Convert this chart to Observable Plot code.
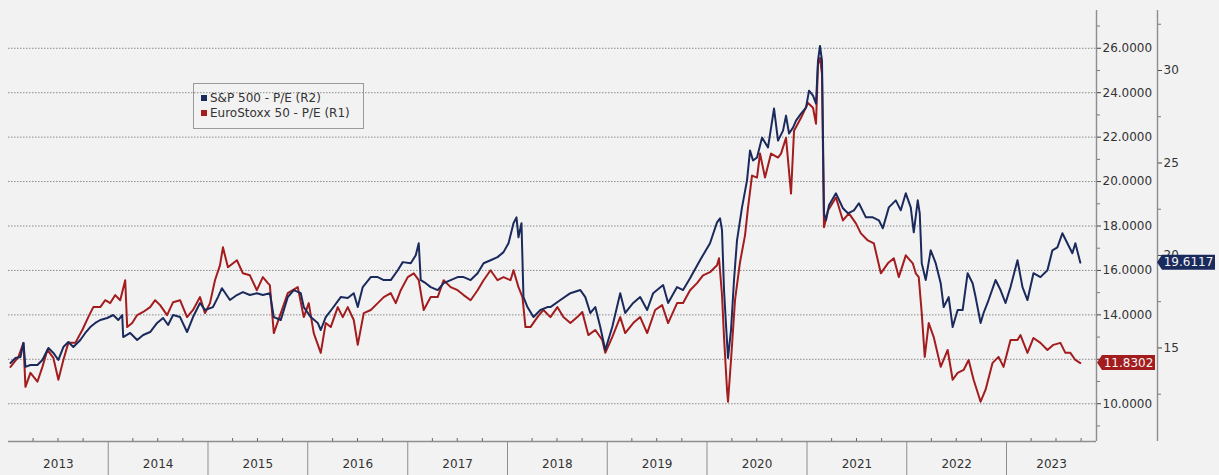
<!DOCTYPE html>
<html><head><meta charset="utf-8">
<script src="https://cdn.jsdelivr.net/npm/d3@7"></script>
<script src="https://cdn.jsdelivr.net/npm/@observablehq/plot@0.6"></script>
<style>
body{margin:0;background:#f2f2f2;}
#wrap{position:relative;width:1219px;height:475px;overflow:hidden;}
#legend{position:absolute;left:193px;top:83px;width:171px;height:46px;border:1px solid #9a9a9a;box-sizing:border-box;font:12px "DejaVu Sans",sans-serif;color:#333;padding:7px 0 0 7px;line-height:15px;white-space:nowrap;}
.sw{display:inline-block;width:6px;height:6px;margin-right:3px;vertical-align:1px;}
</style></head><body><div id="wrap"><div id="legend"></div></div>
<script>
// ---- Data (time as decimal year, P/E values) ----
const seriesNames = ["S&P 500 - P/E (R2)", "EuroStoxx 50 - P/E (R1)"];
const spxT = [2013.02,2013.07,2013.12,2013.15,2013.17,2013.22,2013.29,2013.34,2013.40,2013.45,2013.50,2013.55,2013.60,2013.65,2013.72,2013.77,2013.82,2013.87,2013.92,2013.99,
2014.05,2014.10,2014.14,2014.15,2014.22,2014.29,2014.35,2014.42,2014.49,2014.55,2014.60,2014.65,2014.72,2014.79,2014.85,2014.92,2014.97,
2015.05,2015.10,2015.14,2015.22,2015.29,2015.35,2015.42,2015.49,2015.55,2015.62,2015.66,2015.73,2015.80,2015.86,2015.93,2015.96,
2016.03,2016.10,2016.13,2016.18,2016.25,2016.33,2016.40,2016.46,2016.50,2016.55,2016.63,2016.70,2016.76,2016.83,2016.90,2016.95,
2017.03,2017.08,2017.11,2017.13,2017.18,2017.23,2017.30,2017.36,2017.43,2017.50,2017.56,2017.63,2017.70,2017.76,2017.83,2017.90,2017.96,
2018.01,2018.06,2018.09,2018.11,2018.14,2018.16,2018.20,2018.26,2018.33,2018.40,2018.43,2018.53,2018.63,2018.73,2018.78,2018.83,2018.88,2018.93,2018.98,
2019.05,2019.13,2019.18,2019.26,2019.33,2019.40,2019.46,2019.56,2019.61,2019.70,2019.76,2019.83,2019.93,
2020.03,2020.10,2020.13,2020.15,2020.17,2020.19,2020.21,2020.24,2020.27,2020.30,2020.35,2020.40,2020.43,2020.46,2020.50,2020.55,2020.61,2020.67,2020.71,2020.76,2020.79,2020.82,2020.86,2020.89,2020.94,2020.99,
2021.02,2021.06,2021.09,2021.11,2021.13,2021.15,2021.17,2021.19,2021.22,2021.29,2021.36,2021.41,2021.47,2021.52,2021.59,2021.66,2021.72,2021.76,2021.82,2021.89,2021.94,2021.99,
2022.04,2022.07,2022.11,2022.13,2022.15,2022.19,2022.24,2022.29,2022.34,2022.37,2022.42,2022.46,2022.51,2022.56,2022.61,2022.66,2022.69,2022.74,2022.77,2022.82,2022.89,2022.94,2022.99,
2023.04,2023.11,2023.16,2023.21,2023.27,2023.34,2023.41,2023.46,2023.51,2023.56,2023.61,2023.66,2023.69,2023.74];
const spxPE = [14.19,14.46,14.51,15.27,13.98,14.08,14.08,14.35,15.00,14.73,14.35,15.05,15.32,15.05,15.43,15.81,16.13,16.35,16.51,16.62,
16.78,16.51,16.78,15.59,15.81,15.43,15.70,15.86,16.35,16.62,16.24,16.78,16.67,15.86,16.67,17.43,17.05,
17.21,17.75,18.23,17.59,17.86,18.02,17.86,17.96,17.86,17.96,16.67,16.51,17.75,18.13,17.96,17.21,
16.67,16.35,15.97,16.67,17.16,17.75,17.70,17.96,17.21,18.29,18.83,18.83,18.67,18.67,19.20,19.64,
19.58,20.01,20.66,18.67,18.50,18.29,18.13,18.50,18.67,18.83,18.83,18.67,19.04,19.58,19.74,19.91,20.18,
20.66,21.74,22.06,20.98,21.74,17.75,17.21,16.67,17.05,17.21,17.21,17.59,17.96,18.13,17.75,16.89,17.21,16.13,14.89,
16.13,17.96,16.89,17.43,17.75,17.05,17.96,18.40,17.43,18.29,18.13,18.77,19.74,
20.66,21.79,22.01,21.37,18.13,16.24,14.46,15.97,18.67,20.82,22.60,24.06,25.67,25.13,25.30,26.37,25.84,27.94,26.21,26.75,27.56,26.59,26.91,27.29,27.67,27.99,
28.91,28.64,28.21,30.53,31.33,30.53,22.28,21.90,22.71,23.36,22.55,22.28,22.44,22.82,22.06,22.06,21.90,21.47,22.60,22.98,22.44,23.36,
22.60,21.25,22.98,22.28,19.58,18.67,20.28,19.58,18.50,17.21,17.75,16.13,17.05,17.05,19.04,18.50,17.75,16.35,16.89,17.59,18.67,18.13,17.43,
18.29,19.74,18.29,17.59,19.04,18.83,19.20,20.28,20.44,21.20,20.66,20.12,20.66,19.6117];

const sxT = [2013.02,2013.10,2013.15,2013.17,2013.22,2013.29,2013.34,2013.39,2013.45,2013.50,2013.55,2013.60,2013.67,2013.74,2013.80,2013.85,2013.92,2013.97,
2014.02,2014.07,2014.12,2014.17,2014.19,2014.24,2014.29,2014.35,2014.42,2014.47,2014.52,2014.59,2014.65,2014.72,2014.79,2014.85,2014.92,2014.97,
2015.02,2015.07,2015.12,2015.15,2015.20,2015.29,2015.35,2015.42,2015.49,2015.55,2015.60,2015.62,2015.66,2015.73,2015.80,2015.90,2015.96,
2016.01,2016.06,2016.13,2016.18,2016.23,2016.30,2016.35,2016.40,2016.46,2016.50,2016.56,2016.63,2016.70,2016.76,2016.83,2016.88,2016.93,
2017.00,2017.06,2017.11,2017.16,2017.23,2017.30,2017.36,2017.43,2017.50,2017.56,2017.63,2017.70,2017.76,2017.83,2017.90,2017.96,
2018.03,2018.06,2018.11,2018.15,2018.18,2018.23,2018.30,2018.36,2018.43,2018.50,2018.56,2018.63,2018.70,2018.75,2018.81,2018.88,2018.95,2018.98,
2019.05,2019.13,2019.18,2019.26,2019.33,2019.40,2019.48,2019.55,2019.61,2019.70,2019.76,2019.83,2019.90,2019.96,
2020.03,2020.10,2020.12,2020.15,2020.17,2020.20,2020.21,2020.24,2020.28,2020.33,2020.38,2020.41,2020.45,2020.50,2020.53,2020.58,2020.64,2020.71,2020.74,2020.79,2020.84,2020.87,2020.94,
2021.01,2021.06,2021.09,2021.11,2021.13,2021.15,2021.17,2021.21,2021.29,2021.36,2021.42,2021.49,2021.54,2021.61,2021.67,2021.74,2021.81,2021.87,2021.92,2021.99,
2022.06,2022.09,2022.12,2022.15,2022.18,2022.22,2022.27,2022.34,2022.41,2022.46,2022.51,2022.57,2022.62,2022.67,2022.74,2022.79,2022.86,2022.92,2022.97,
2023.04,2023.11,2023.14,2023.21,2023.27,2023.34,2023.41,2023.47,2023.54,2023.59,2023.64,2023.69,2023.74];
const sxPE = [11.66,12.11,12.74,10.76,11.39,10.99,11.66,12.42,12.06,11.08,11.97,12.74,12.74,13.32,13.90,14.35,14.35,14.66,
14.53,14.89,14.66,15.56,13.45,13.63,13.99,14.13,14.35,14.66,14.44,13.99,14.57,14.66,13.90,14.22,14.80,14.08,
14.53,15.56,16.23,17.04,16.14,16.46,15.87,15.78,15.11,15.70,15.43,15.34,13.18,14.08,14.98,15.25,13.90,
14.53,13.18,12.29,13.63,13.45,14.35,13.90,14.35,13.77,12.65,14.08,14.22,14.53,14.80,14.98,14.53,15.11,
15.70,15.87,15.56,14.22,14.80,14.80,15.56,15.25,15.11,14.89,14.66,15.11,15.56,16.01,15.56,15.70,
15.56,16.01,15.25,14.80,13.45,13.45,13.90,14.22,13.90,14.35,13.90,13.63,13.90,14.13,13.09,13.32,12.87,12.29,
13.00,13.90,13.18,13.63,13.90,13.18,14.22,14.44,13.63,14.53,14.53,15.11,15.43,15.78,
15.92,16.23,16.55,14.89,13.00,10.63,10.09,11.97,14.66,16.37,17.58,18.83,20.27,20.18,21.26,20.18,21.26,21.08,21.26,21.97,19.46,22.29,22.87,
23.54,23.32,22.60,25.29,25.56,24.84,17.94,18.70,19.28,18.25,18.57,18.12,17.67,17.35,17.22,15.87,16.32,16.55,15.70,16.68,
16.32,15.87,15.70,14.08,12.11,13.63,13.00,11.66,12.42,11.08,11.39,11.52,11.97,11.08,10.09,10.63,11.84,12.11,11.66,
12.87,12.87,13.09,12.29,12.96,12.74,12.42,12.65,12.74,12.29,12.29,11.97,11.8302];

const yearLabels = ["2013","2014","2015","2016","2017","2018","2019","2020","2021","2022","2023"];
const r1Ticks = [10,12,14,16,18,20,22,24,26];
const r1Minor = [9,11,13,15,17,19,21,23,25,27];
const r2Ticks = [15,20,25,30];
const r2Minor = [12.5,17.5,22.5,27.5,32.5];

// ---- helpers ----
const toDate = t => { const y = Math.floor(t); const s = Date.UTC(y,0,1), e = Date.UTC(y+1,0,1); return new Date(s + (t - y) * (e - s)); };
const spx = spxT.map((t,i) => ({date: toDate(t), pe: spxPE[i]}));
const sx5e = sxT.map((t,i) => ({date: toDate(t), pe: sxPE[i]}));
// right axis (R2) mapped onto the R1 scale
const R1_AT_R2_15 = 12.511, R2_R1_SLOPE = 0.8326;
const r2ToR1 = v => R1_AT_R2_15 + (v - 15) * R2_R1_SLOPE;

const xStart = new Date(Date.UTC(2013,0,1)), xEnd = toDate(2023.902);
const yMin = 8.30, yMax = 27.70;
const quarterTicks = [], yearStarts = [], yearMids = [];
for (let y = 2013; y <= 2023; y++) {
  for (const m of [3,6,9]) { const d = new Date(Date.UTC(y,m,1)); if (d < xEnd) quarterTicks.push(d); }
  if (y > 2013) yearStarts.push(new Date(Date.UTC(y,0,1)));
  const s = Math.max(Date.UTC(y,0,1), +xStart), e = Math.min(Date.UTC(y+1,0,1), +xEnd);
  yearMids.push(new Date((s + e) / 2));
}

const BLUE = "#1b2a5c", RED = "#a31c1e", AX = "#8e8e8e", TXT = "#333";
const spxLast = spxPE[spxPE.length - 1], sxLast = sxPE[sxPE.length - 1];
// the R1 label hidden under the EuroStoxx end tag in the reference
const hiddenR1 = 12;

const plot = Plot.plot({
  width: 1219, height: 475,
  marginLeft: 8, marginRight: 123, marginTop: 10, marginBottom: 34,
  style: {background: "transparent", fontFamily: "'DejaVu Sans', sans-serif", fontSize: "12px", color: TXT, overflow: "visible"},
  x: {type: "utc", domain: [xStart, xEnd], axis: null},
  y: {domain: [yMin, yMax], axis: null},
  marks: [
    Plot.gridY(r1Ticks, {stroke: "#8a8a8a", strokeOpacity: 1, strokeWidth: 1, strokeDasharray: "1.5,1.5"}),
    Plot.lineY(sx5e, {x: "date", y: "pe", stroke: RED, strokeWidth: 2}),
    Plot.lineY(spx, {x: "date", y: d => r2ToR1(d.pe), stroke: BLUE, strokeWidth: 2}),
    Plot.ruleX([xEnd], {stroke: AX, strokeWidth: 1.4}),
    Plot.ruleY([yMin], {stroke: AX, strokeWidth: 1.4}),
    Plot.ruleX([xEnd], {dx: 61, stroke: AX, strokeWidth: 1.4}),
    Plot.axisY(r1Ticks, {anchor: "right", label: null, tickSize: 4, tickPadding: 2, tickFormat: d => d === hiddenR1 ? "" : d.toFixed(4), stroke: "#444", fill: TXT}),
    Plot.axisY(r1Minor, {anchor: "right", label: null, tickSize: 3, tickFormat: () => "", stroke: "#777"}),
    Plot.axisY(r2Ticks, {anchor: "right", label: null, y: d => r2ToR1(d), dx: 61, tickSize: 4, tickPadding: 2, tickFormat: d => String(d), stroke: "#444", fill: TXT}),
    Plot.axisY(r2Minor, {anchor: "right", label: null, y: d => r2ToR1(d), dx: 61, tickSize: 3, tickFormat: () => "", stroke: "#777"}),
    Plot.axisX(quarterTicks, {anchor: "bottom", label: null, tickSize: -3, tickFormat: () => "", stroke: "#666"}),
    Plot.axisX(yearStarts, {anchor: "bottom", label: null, tickSize: 34, tickFormat: () => "", stroke: AX}),
    Plot.axisX(yearMids, {anchor: "bottom", label: null, tickSize: 0, tickPadding: 18, tickFormat: d => yearLabels[d.getUTCFullYear() - 2013], fill: TXT})
  ]
});
document.getElementById("wrap").prepend(plot);

// end-value tags
const svg = d3.select(plot);
const ys = plot.scale("y");
function tag(x0, yv, w, fill, label) {
  const y = ys.apply(yv), h = 15, a = 5;
  svg.append("path")
    .attr("d", `M${x0},${y} L${x0+a},${y-h/2} L${x0+w},${y-h/2} L${x0+w},${y+h/2} L${x0+a},${y+h/2} Z`)
    .attr("fill", fill);
  svg.append("text").attr("x", x0 + a + (w - a) / 2).attr("y", y).attr("dy", "0.35em")
    .attr("text-anchor", "middle").attr("fill", "#f4f4f4")
    .style("font", "12px 'DejaVu Sans', sans-serif").text(label);
}
tag(1157, r2ToR1(spxLast), 58, BLUE, spxLast.toFixed(4));
tag(1097, sxLast, 58, RED, sxLast.toFixed(4));

// legend
const lg = document.getElementById("legend");
lg.innerHTML = `<div><span class="sw" style="background:${BLUE}"></span>${seriesNames[0].replace("&","&amp;")}</div>` +
               `<div><span class="sw" style="background:${RED}"></span>${seriesNames[1]}</div>`;
</script>
</body></html>
